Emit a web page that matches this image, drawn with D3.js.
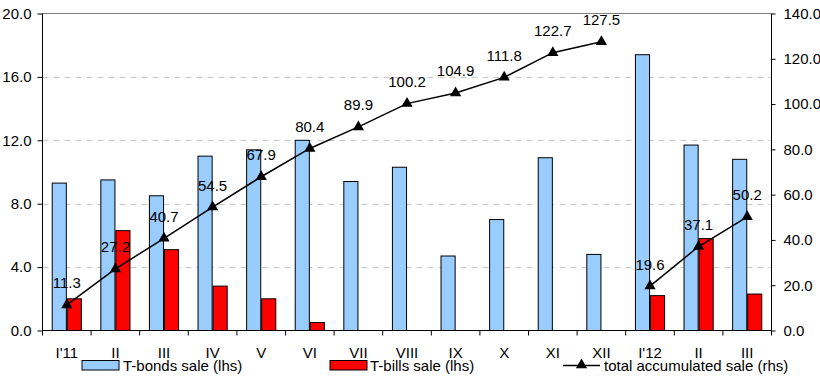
<!DOCTYPE html>
<html>
<head>
<meta charset="utf-8">
<script src="https://cdn.jsdelivr.net/npm/d3@7.9.0/dist/d3.min.js"></script>
<style>
  body { margin: 0; background: #fff; }
  svg { display: block; font-family: "Liberation Sans", Arial, sans-serif; }
</style>
</head>
<body>
<div id="chart"></div>
<script>
// Data
const months = ["I'11", "II", "III", "IV", "V", "VI", "VII", "VIII", "IX", "X", "XI", "XII", "I'12", "II", "III"];
const year = [2011, 2011, 2011, 2011, 2011, 2011, 2011, 2011, 2011, 2011, 2011, 2011, 2012, 2012, 2012];
const bonds = [9.3, 9.5, 8.5, 11.0, 11.4, 12.0, 9.4, 10.3, 4.7, 7.0, 10.9, 4.8, 17.4, 11.7, 10.8];
const bills = [2.0, 6.3, 5.1, 2.8, 2.0, 0.5, 0, 0, 0, 0, 0, 0, 2.2, 5.8, 2.3];
const accumulated = [11.3, 27.2, 40.7, 54.5, 67.9, 80.4, 89.9, 100.2, 104.9, 111.8, 122.7, 127.5, 19.6, 37.1, 50.2];
const leftTicks = [0, 4, 8, 12, 16, 20];
const rightTicks = [0, 20, 40, 60, 80, 100, 120, 140];

const W = 820, H = 376;
const plotL = 42.5, plotR = 771.5, plotT = 13.5, plotB = 330.5;
const fs = "15px";

const svg = d3.select("#chart").append("svg")
    .attr("width", W)
    .attr("height", H);

const x = d3.scaleBand()
    .domain(d3.range(months.length))
    .range([plotL, plotR])
    .padding(0);

const inner = d3.scaleBand()
    .domain(["bonds", "bills"])
    .range([x.bandwidth() * 0.2, x.bandwidth() * 0.8])
    .paddingInner(0.06);

const y = d3.scaleLinear().domain([0, 20]).range([plotB, plotT]);
const y2 = d3.scaleLinear().domain([0, 140]).range([plotB, plotT]);

// Gridlines (dashed)
svg.append("g")
    .selectAll("line")
    .data(leftTicks.filter(d => d > 0 && d < 20))
    .join("line")
    .attr("x1", plotL)
    .attr("x2", plotR)
    .attr("y1", d => Math.round(y(d)) + 0.5)
    .attr("y2", d => Math.round(y(d)) + 0.5)
    .attr("stroke", "#c8c8c8")
    .attr("stroke-dasharray", "6,5");

// top border
svg.append("line")
    .attr("x1", plotL).attr("x2", plotR)
    .attr("y1", plotT).attr("y2", plotT)
    .attr("stroke", "#808080")
    .attr("stroke-width", 1);

// Bars
const barG = svg.append("g");
barG.selectAll(".bond")
    .data(bonds)
    .join("rect")
    .attr("class", "bond")
    .attr("x", (d, i) => x(i) + inner("bonds"))
    .attr("y", d => y(d))
    .attr("width", inner.bandwidth())
    .attr("height", d => y(0) - y(d))
    .attr("fill", "#99ccff")
    .attr("stroke", "#000")
    .attr("stroke-width", 1);

barG.selectAll(".bill")
    .data(bills)
    .join("rect")
    .attr("class", "bill")
    .attr("x", (d, i) => x(i) + inner("bills"))
    .attr("y", d => y(d))
    .attr("width", inner.bandwidth())
    .attr("height", d => y(0) - y(d))
    .attr("fill", "#ff0000")
    .attr("stroke", "#000")
    .attr("stroke-width", 1)
    .attr("display", d => d > 0 ? null : "none");

// Axes
const axisFont = g => g.selectAll("text")
    .attr("font-size", fs)
    .attr("font-family", "Liberation Sans, Arial, sans-serif")
    .attr("fill", "#000");

svg.append("g")
    .attr("transform", `translate(${plotL},0)`)
    .call(d3.axisLeft(y).tickValues(leftTicks).tickFormat(d3.format(".1f")).tickSize(5).tickPadding(6))
    .call(g => g.select(".domain").attr("d", `M0,${plotT}V${plotB}`))
    .call(axisFont);

svg.append("g")
    .attr("transform", `translate(${plotR},0)`)
    .call(d3.axisRight(y2).tickValues(rightTicks).tickFormat(d3.format(".1f")).tickSize(4).tickPadding(8))
    .call(g => g.select(".domain").attr("d", `M0,${plotT}V${plotB}`))
    .call(axisFont);

// x axis: ticks at category boundaries
const xAxis = svg.append("g").attr("transform", `translate(0,${plotB})`);
xAxis.append("line")
    .attr("x1", plotL).attr("x2", plotR)
    .attr("stroke", "#000");
xAxis.selectAll(".tk")
    .data(d3.range(months.length + 1))
    .join("line")
    .attr("class", "tk")
    .attr("x1", i => i < months.length ? x(i) : plotR)
    .attr("x2", i => i < months.length ? x(i) : plotR)
    .attr("y1", 0).attr("y2", 5)
    .attr("stroke", "#000");
xAxis.selectAll(".lbl")
    .data(months)
    .join("text")
    .attr("class", "lbl")
    .attr("x", (d, i) => x(i) + x.bandwidth() / 2)
    .attr("y", 27.5)
    .attr("text-anchor", "middle")
    .attr("font-size", fs)
    .text(d => d);

// Accumulated line (one segment per year)
const points = accumulated.map((v, i) => ({ i, v, year: year[i] }));
const line = d3.line()
    .x(d => x(d.i) + x.bandwidth() / 2)
    .y(d => y2(d.v));

svg.append("g")
    .selectAll("path")
    .data(d3.groups(points, d => d.year))
    .join("path")
    .attr("d", d => line(d[1]))
    .attr("fill", "none")
    .attr("stroke", "#000")
    .attr("stroke-width", 1.5);

const tri = d3.symbol().type(d3.symbolTriangle).size(55);
svg.append("g")
    .selectAll("path")
    .data(points)
    .join("path")
    .attr("d", tri)
    .attr("transform", d => `translate(${x(d.i) + x.bandwidth() / 2},${y2(d.v)})`)
    .attr("fill", "#000");

svg.append("g")
    .selectAll("text")
    .data(points)
    .join("text")
    .attr("x", d => x(d.i) + x.bandwidth() / 2)
    .attr("y", d => y2(d.v) - 16.5)
    .attr("text-anchor", "middle")
    .attr("font-size", fs)
    .text(d => d.v.toFixed(1));

// Legend
const legend = svg.append("g");
legend.append("rect")
    .attr("x", 82).attr("y", 360.5).attr("width", 37).attr("height", 9.5)
    .attr("fill", "#99ccff").attr("stroke", "#000");
legend.append("text")
    .attr("x", 123).attr("y", 371).attr("font-size", fs)
    .text("T-bonds sale (lhs)");
legend.append("rect")
    .attr("x", 330).attr("y", 360.5).attr("width", 37).attr("height", 9.5)
    .attr("fill", "#ff0000").attr("stroke", "#000");
legend.append("text")
    .attr("x", 370).attr("y", 371).attr("font-size", fs)
    .text("T-bills sale (lhs)");
legend.append("line")
    .attr("x1", 563).attr("x2", 600).attr("y1", 365.5).attr("y2", 365.5)
    .attr("stroke", "#000").attr("stroke-width", 1.5);
legend.append("path")
    .attr("d", tri)
    .attr("transform", "translate(581.5,365)")
    .attr("fill", "#000");
legend.append("text")
    .attr("x", 604).attr("y", 371).attr("font-size", fs)
    .text("total accumulated sale (rhs)");
</script>
</body>
</html>
